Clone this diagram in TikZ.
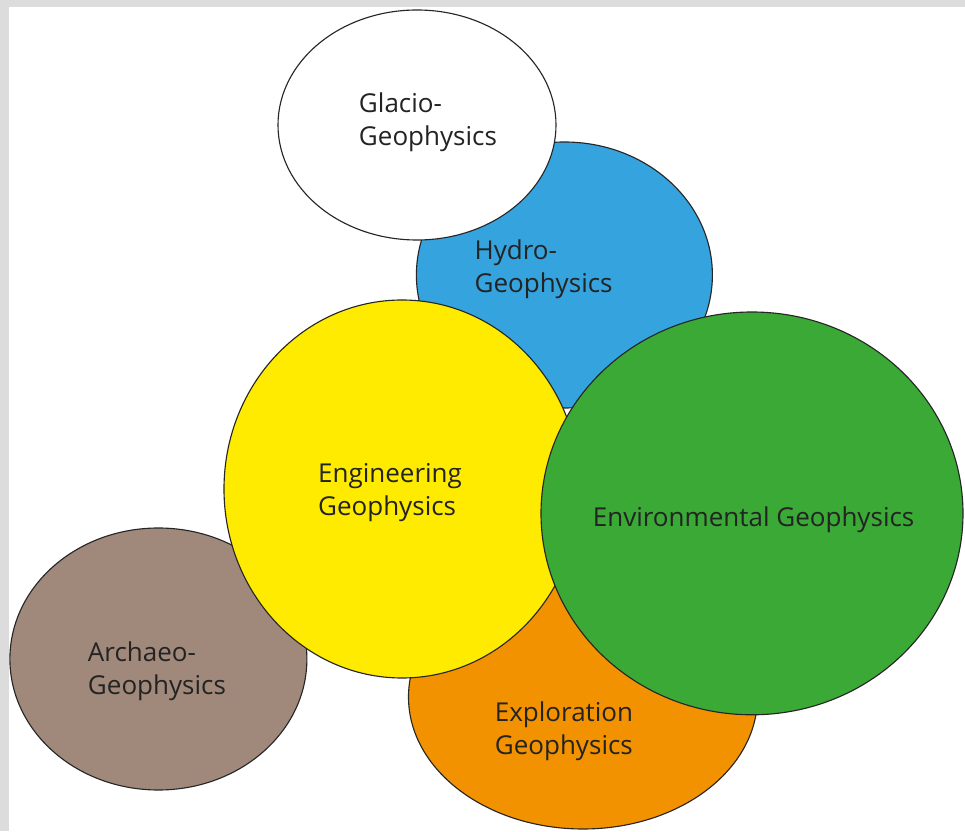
\documentclass[tikz,border=0pt]{standalone}
\usepackage{fontspec}
\setmainfont{Open Sans}
\usepackage{xcolor}
\usepackage{tikz}
\usetikzlibrary{positioning, shapes.geometric}
\definecolor{gpBlue}{RGB}{52, 163, 222}
\definecolor{gpYellow}{RGB}{255, 235, 0}
\definecolor{gpGreen}{RGB}{58, 169, 53}
\definecolor{gpOrange}{RGB}{243, 146, 0}
\definecolor{gpBrown}{RGB}{160, 137, 122}
\definecolor{gpText}{RGB}{35, 35, 35}
\definecolor{gpFrame}{RGB}{220, 220, 220}
\tikzset{
    field/.style={
        ellipse,
        draw=black!85,
        line width=0.8pt,
        inner sep=0pt
    },
    tag/.style={
        font=\fontsize{18.5}{23.5}\selectfont,
        text=gpText,
        align=left,
        inner sep=0pt
    }
}

\begin{document}
\begin{tikzpicture}
  \useasboundingbox (0,0) rectangle (24.125,20.775);
  \fill[gpFrame] (0,0) rectangle (24.125,20.775);
  \fill[white] (0.225,0) rectangle (24.125,20.6);

  % Fields, back to front
  \node[field, fill=gpOrange, minimum width=8.725cm, minimum height=6.6cm] (explo) at (14.575,3.35) {};
  \node[field, fill=gpBlue, minimum width=7.4cm, minimum height=6.65cm] (hydro) at (14.11,13.9) {};
  \node[field, fill=gpBrown, minimum width=7.425cm, minimum height=6.55cm] (archaeo) at (3.96,4.3) {};
  \node[field, fill=gpYellow, minimum width=8.9cm, minimum height=9.45cm] (engin) at (10.05,8.55) {};
  \node[field, fill=gpGreen, minimum width=10.55cm, minimum height=10.07cm] (environ) at (18.8,7.94) {};
  \node[field, fill=white, minimum width=6.95cm, minimum height=5.75cm] (glacio) at (10.425,17.65) {};

  % Labels
  \node[tag] (glacioText) at (10.7,17.72) {Glacio-\\Geophysics};
  \node[tag] (hydroText) at (13.59,14.05) {Hydro-\\Geophysics};
  \node[tag] (enginText) at (9.75,8.45) {Engineering\\Geophysics};
  \node[tag] (environText) at (18.84,7.775) {Environmental Geophysics};
  \node[tag] (exploText) at (14.1,2.5) {Exploration\\Geophysics};
  \node[tag] (archaeoText) at (3.925,4.0) {Archaeo-\\Geophysics};
\end{tikzpicture}
\end{document}
